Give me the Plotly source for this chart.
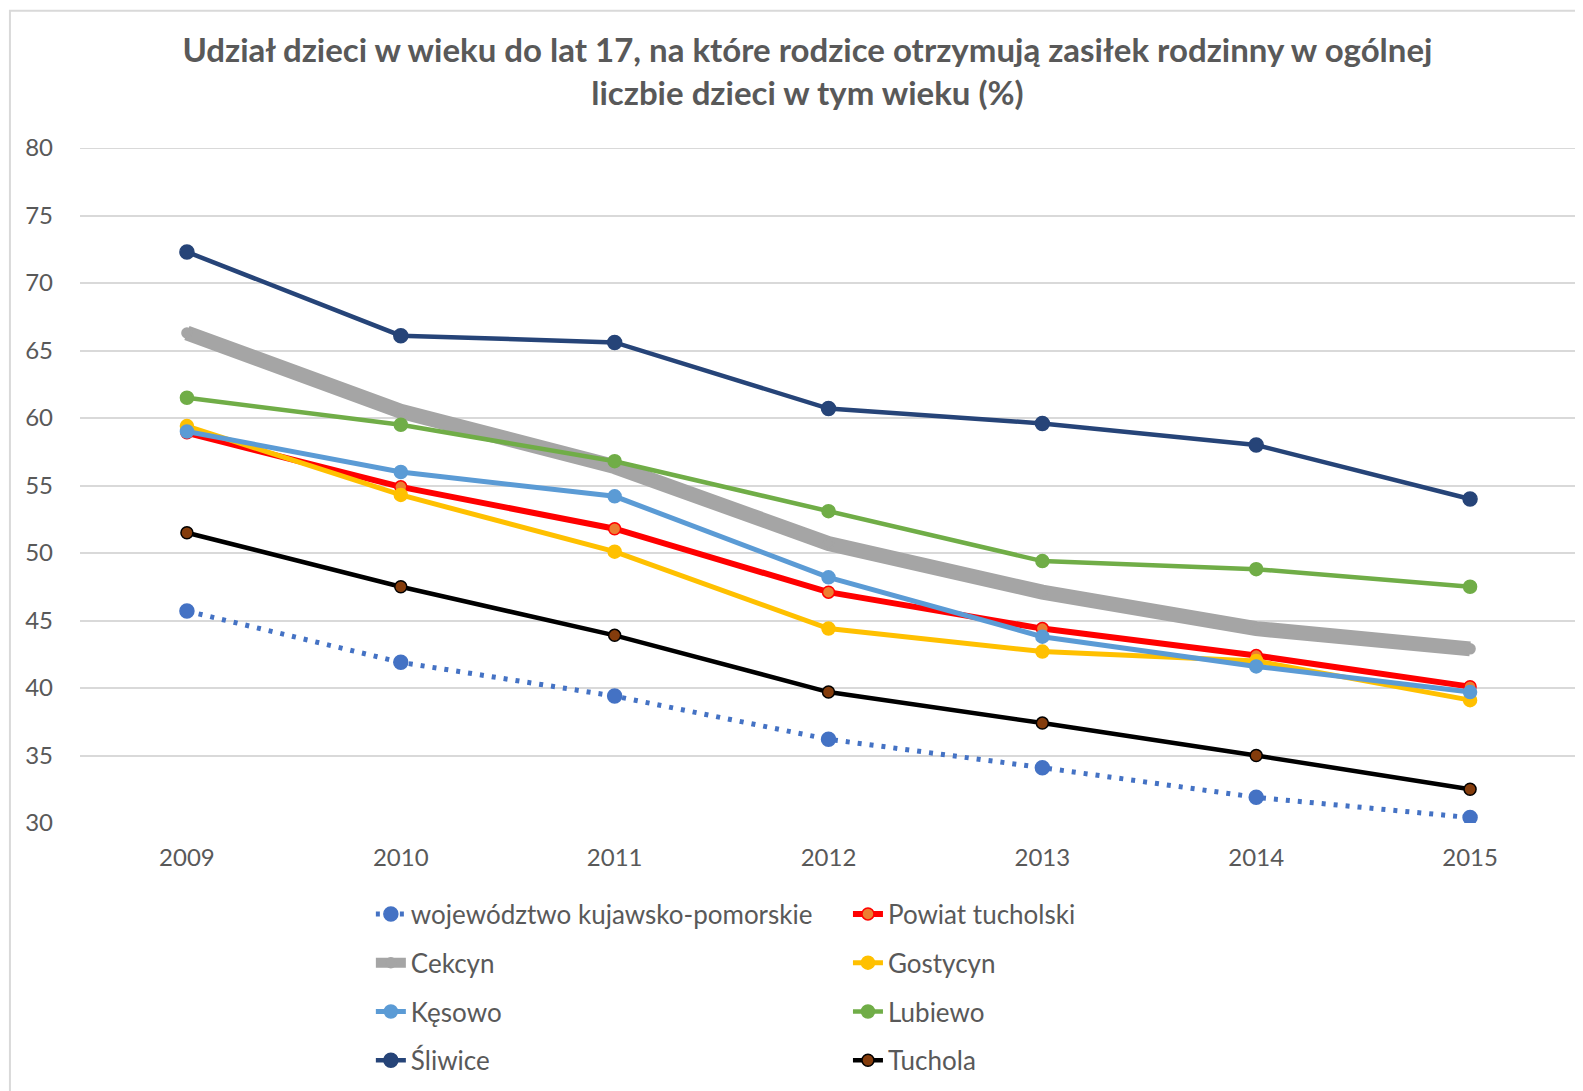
import plotly.graph_objects as go

years = ['2009', '2010', '2011', '2012', '2013', '2014', '2015']

wojewodztwo = [45.7, 41.9, 39.4, 36.2, 34.1, 31.9, 30.4]
powiat = [58.9, 54.9, 51.8, 47.1, 44.4, 42.4, 40.1]
cekcyn = [66.3, 60.5, 56.4, 50.7, 47.1, 44.4, 42.9]
gostycyn = [59.4, 54.3, 50.1, 44.4, 42.7, 42.0, 39.1]
kesowo = [59.0, 56.0, 54.2, 48.2, 43.8, 41.6, 39.7]
lubiewo = [61.5, 59.5, 56.8, 53.1, 49.4, 48.8, 47.5]
sliwice = [72.3, 66.1, 65.6, 60.7, 59.6, 58.0, 54.0]
tuchola = [51.5, 47.5, 43.9, 39.7, 37.4, 35.0, 32.5]

FONT = 'Lato'
GREY = '#595959'
GRID = '#D9D9D9'

# name, values, line colour, width, marker fill, marker outline, marker size, dash, legend
series = [
    ('województwo kujawsko-pomorskie', wojewodztwo, '#4472C4', 5, '#4472C4', '#4472C4', 14, '4px,8px', 'legend'),
    ('Powiat tucholski', powiat, '#FF0000', 6, '#ED7D31', '#FF0000', 12, 'solid', 'legend2'),
    ('Cekcyn', cekcyn, '#A5A5A5', 15, '#A5A5A5', '#A5A5A5', 10, 'solid', 'legend'),
    ('Gostycyn', gostycyn, '#FFC000', 5, '#FFC000', '#FFC000', 13, 'solid', 'legend2'),
    ('Kęsowo', kesowo, '#5B9BD5', 5, '#5B9BD5', '#5B9BD5', 13, 'solid', 'legend'),
    ('Lubiewo', lubiewo, '#70AD47', 4.5, '#70AD47', '#70AD47', 13, 'solid', 'legend2'),
    ('Śliwice', sliwice, '#264478', 4.5, '#264478', '#264478', 14, 'solid', 'legend'),
    ('Tuchola', tuchola, '#000000', 4.5, '#843C0C', '#000000', 12, 'solid', 'legend2'),
]

fig = go.Figure()
for name, vals, col, w, mfill, mline, msize, dash, leg in series:
    fig.add_trace(go.Scatter(
        x=years, y=vals, name=name, mode='lines+markers',
        line=dict(color=col, width=w, dash=dash),
        marker=dict(color=mfill, size=msize, line=dict(color=mline, width=1.5)),
        legend=leg, legendgroup=name,
    ))

# the page body adds an 8px offset, so margins are shifted by -8
fig.update_layout(
    width=1583, height=1091,
    margin=dict(l=72, r=14, t=139.5, b=275.5, autoexpand=False),
    paper_bgcolor='white', plot_bgcolor='white',
    font=dict(family=FONT, color=GREY, size=24),
    title=dict(
        text='<b>Udział dzieci w wieku do lat 17, na które rodzice otrzymują zasiłek rodzinny w ogólnej<br>liczbie dzieci w tym wieku (%)</b>',
        x=0.505, xanchor='center', y=0.9507, yanchor='top',
        font=dict(family=FONT, size=33, color=GREY),
    ),
    xaxis=dict(range=[-0.5, 6.5], showgrid=False, showline=False, zeroline=False, ticks='',
               ticklabelstandoff=18, tickfont=dict(size=24, color=GREY)),
    yaxis=dict(range=[30, 80], dtick=5, tick0=30, showgrid=True, gridcolor=GRID, gridwidth=2,
               zeroline=False, showline=False, ticks='', ticklabelstandoff=26,
               tickfont=dict(size=24, color=GREY)),
    legend=dict(x=0.1943, y=-0.1, xanchor='left', yanchor='top', orientation='v',
                tracegroupgap=12, font=dict(size=26, color=GREY), bgcolor='rgba(0,0,0,0)'),
    legend2=dict(x=0.5130, y=-0.1, xanchor='left', yanchor='top', orientation='v',
                 tracegroupgap=12, font=dict(size=26, color=GREY), bgcolor='rgba(0,0,0,0)'),
    showlegend=True,
)

# top gridline (plotly drops the one sitting on the plot edge)
fig.add_shape(type='line', xref='paper', yref='y', x0=0, x1=1, y0=80, y1=80,
              line=dict(color=GRID, width=2), layer='below')

# thin frame round the chart, as in the source picture
fig.add_shape(type='rect', xref='paper', yref='paper',
              x0=-0.0468, x1=1.02, y0=-0.42, y1=1.2034,
              line=dict(color=GRID, width=2), layer='below')

fig.write_html('out.html')
